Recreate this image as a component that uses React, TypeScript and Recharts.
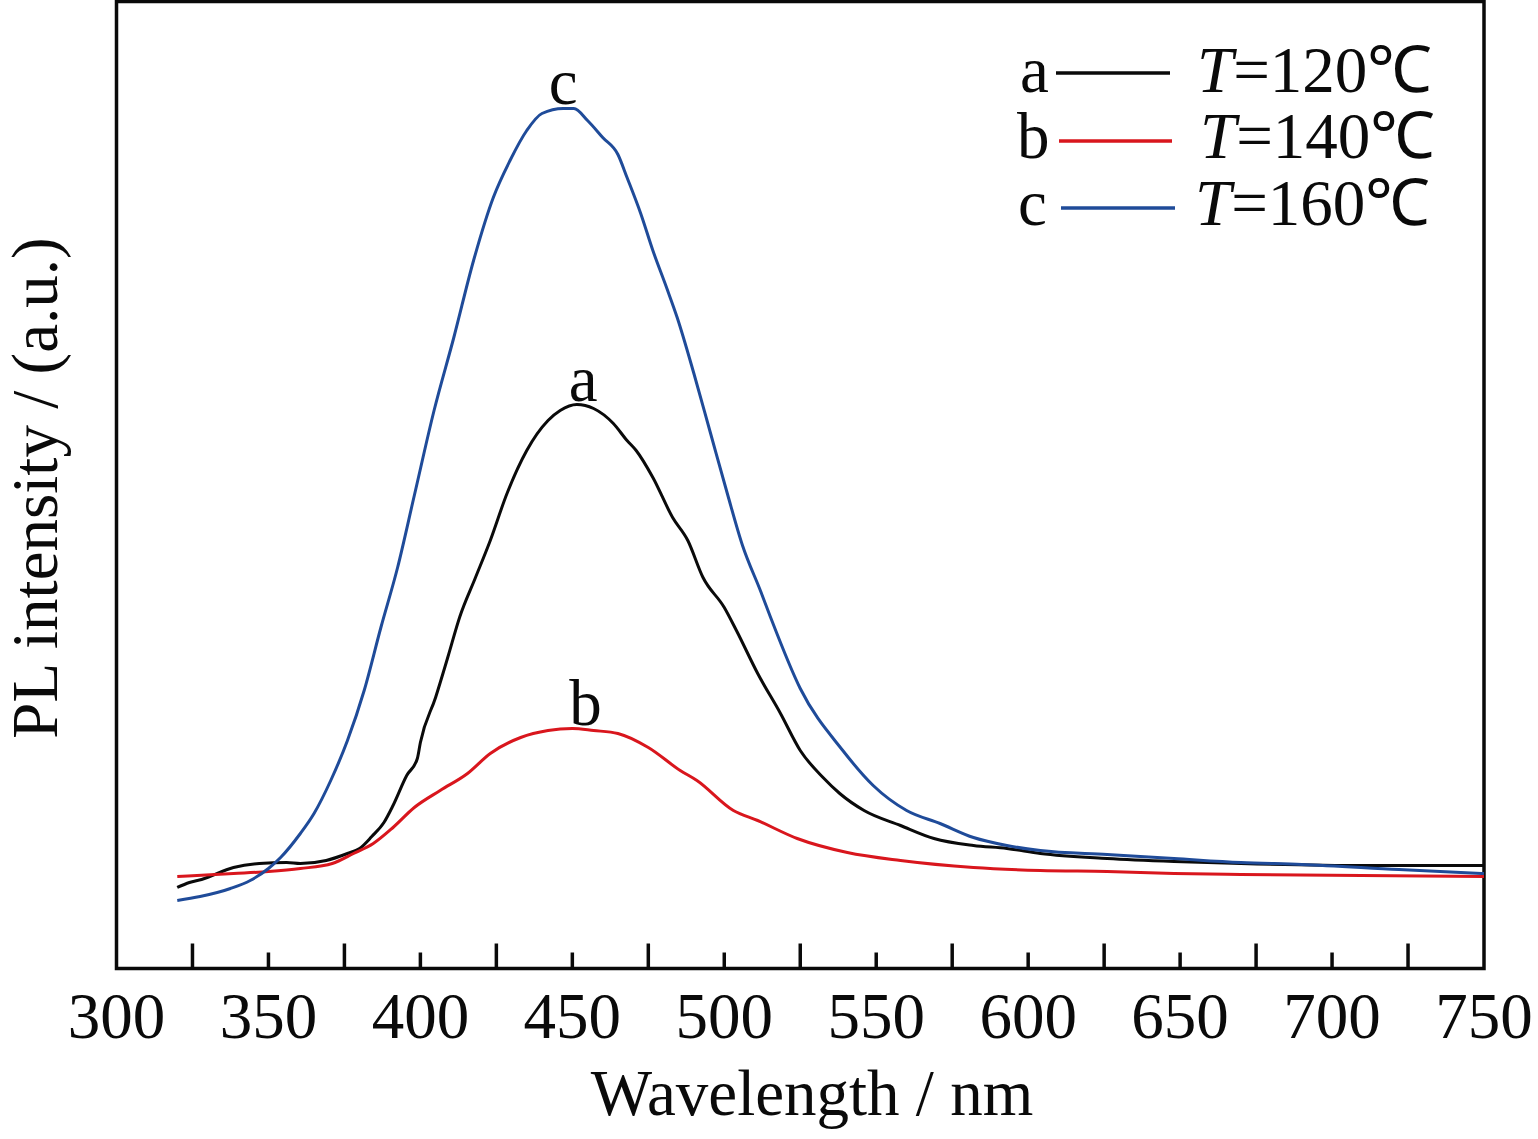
import {
  LineChart,
  Line,
  XAxis,
  YAxis,
  ReferenceArea,
  ReferenceDot,
  Legend,
} from "recharts";

// wavelength (nm), PL intensity (a.u.)
const curveA: [number, number][] = [
  [320, 81], [324, 86], [328, 89], [338.5, 101], [347, 105], [356, 106],
  [360.5, 105], [369, 108], [376, 115], [380, 120], [384, 132], [388, 146],
  [391, 163], [395.5, 193], [399, 210], [400, 226], [405, 271],
  [409, 311], [413, 352], [418, 390], [423, 428], [428.5, 475],
  [435, 518], [442, 548], [446, 558], [451.5, 564], [457, 560], [463.5, 545],
  [468, 528], [471, 518], [476.5, 491], [483, 451], [488, 428], [493, 391],
  [500, 361], [504, 338], [511, 295], [518.5, 255], [525, 218], [532.5, 191],
  [538, 175], [546, 158], [558, 143], [569, 130], [582, 123], [593, 120],
  [604, 115], [626, 110], [648, 107], [670, 105], [711, 103], [750, 103],
];

const curveB: [number, number][] = [
  [320, 92], [338.5, 95], [350, 97], [360.5, 100], [371, 105], [378, 115],
  [384.5, 125], [391, 141], [398, 161], [406.5, 178], [415.5, 195], [423, 215],
  [433, 231], [442, 238], [450, 240], [457, 238], [465, 235], [475, 221],
  [485.5, 198], [491, 188], [503, 158], [511, 148], [524, 130], [540.5, 116],
  [558, 108], [582, 101], [604, 98], [626, 97], [648, 95], [670, 94], [750, 92],
];

const curveC: [number, number][] = [
  [320, 68], [327.5, 72], [337.5, 80], [344, 88], [350, 100], [354, 111],
  [360.5, 135], [365, 155], [370.5, 188], [376, 228], [381.5, 278], [387, 341],
  [392.5, 401], [398, 473], [404.5, 558], [411, 631], [417.5, 708], [424, 771],
  [429.5, 808], [435, 838], [440, 855], [447, 860], [450.5, 860], [455, 848],
  [460, 831], [465, 814], [468, 791], [472.5, 755], [476.5, 718], [481, 681],
  [484.5, 651], [490, 595], [495.5, 535], [501, 475], [506, 423], [512, 377],
  [515, 353], [525, 280], [539, 218], [549, 183], [560, 158], [571, 145],
  [582, 131], [593, 123], [604, 118], [626, 114], [648, 110], [670, 106],
  [690, 104], [722, 99], [750, 95],
];

const seriesLetters = ["a", "b", "c"];
const seriesTemps = ["120", "140", "160"];
const seriesColors = ["#0a0a0a", "#d9161d", "#1f4b99"];

// peak tags: wavelength, intensity under the tag
const peakTagX = [453.6, 454.3, 447];
const peakTagY = [563, 239, 860];

const xTicks = [
  300, 325, 350, 375, 400, 425, 450, 475, 500, 525, 550, 575, 600, 625, 650,
  675, 700, 725, 750,
];

const FONT = '"Liberation Serif", "Times New Roman", serif';

const toPoints = (pairs: [number, number][]) =>
  pairs.map(([x, y]) => ({ x, y }));

const curves = [curveA, curveB, curveC].map(toPoints);

const XTick = (props: any) => {
  const { x, y, payload } = props;
  const v = payload.value;
  const labelled = v % 50 === 0;
  const edge = v === 300 || v === 750;
  const len = labelled ? 16 : 25;
  return (
    <g>
      {!edge && (
        <line x1={x} x2={x} y1={y} y2={y - len} stroke="#0a0a0a" strokeWidth={3.5} />
      )}
      {labelled && (
        <text
          x={x}
          y={y + 69.5}
          textAnchor="middle"
          fontFamily={FONT}
          fontSize={65}
          fill="#0a0a0a"
        >
          {v}
        </text>
      )}
    </g>
  );
};

// row layout of the legend box (relative to its wrapper)
const legendRows = [
  { lx: 20, base: 72, x1: 56, x2: 170, ly: 53, tx: 197 },
  { lx: 17, base: 138, x1: 59, x2: 172, ly: 121, tx: 200 },
  { lx: 18, base: 205, x1: 61, x2: 175, ly: 188, tx: 195 },
];

const LegendBox = () => (
  <svg width={440} height={230} style={{ overflow: "visible", display: "block" }}>
    {seriesLetters.map((letter, i) => {
      const r = legendRows[i];
      return (
        <g key={letter} fontFamily={FONT} fontSize={65} fill="#0a0a0a">
          <text x={r.lx} y={r.base}>
            {letter}
          </text>
          <line x1={r.x1} x2={r.x2} y1={r.ly} y2={r.ly} stroke={seriesColors[i]} strokeWidth={3.5} />
          <text x={r.tx} y={r.base}>
            <tspan fontStyle="italic">T</tspan>={seriesTemps[i]}℃
          </text>
        </g>
      );
    })}
  </svg>
);

const App = () => {
  return (
    <div style={{ position: "absolute", left: 0, top: 0, background: "#fff" }}>
      <LineChart
        width={1538}
        height={1139}
        margin={{ top: 1.5, right: 54, left: 0, bottom: 0 }}
      >
        <XAxis
          type="number"
          dataKey="x"
          domain={[300, 750]}
          ticks={xTicks}
          interval={0}
          axisLine={false}
          tickLine={false}
          tickSize={0}
          tickMargin={0}
          height={170.5}
          tick={<XTick />}
          label={{
            content: () => (
              <text
                x={812}
                y={1115}
                textAnchor="middle"
                fontFamily={FONT}
                fontSize={65}
                fill="#0a0a0a"
              >
                Wavelength / nm
              </text>
            ),
          }}
        />
        <YAxis
          type="number"
          domain={[0, 967]}
          width={116.5}
          tick={false}
          tickLine={false}
          axisLine={false}
          label={{
            content: () => (
              <text
                x={57}
                y={488}
                transform="rotate(-90, 57, 488)"
                textAnchor="middle"
                fontFamily={FONT}
                fontSize={65}
                fill="#0a0a0a"
              >
                PL intensity / (a.u.)
              </text>
            ),
          }}
        />
        <Legend
          layout="vertical"
          align="center"
          verticalAlign="middle"
          wrapperStyle={{ left: 1000, top: 20, width: 440, height: 230 }}
          content={() => <LegendBox />}
        />
        {curves.map((pts, i) => (
          <Line
            key={seriesLetters[i]}
            data={pts}
            dataKey="y"
            name={`T=${seriesTemps[i]}℃`}
            type="monotone"
            stroke={seriesColors[i]}
            strokeWidth={3}
            dot={false}
            activeDot={false}
            isAnimationActive={false}
          />
        ))}
        {seriesLetters.map((letter, i) => (
          <ReferenceDot
            key={`tag-${letter}`}
            x={peakTagX[i]}
            y={peakTagY[i]}
            r={0}
            stroke="none"
            fill="none"
            label={{
              value: letter,
              position: "top",
              offset: 5,
              fontFamily: FONT,
              fontSize: 65,
              fill: "#0a0a0a",
            }}
          />
        ))}
        <ReferenceArea
          x1={300}
          x2={750}
          y1={0}
          y2={967}
          fill="none"
          fillOpacity={0}
          stroke="#0a0a0a"
          strokeWidth={3.5}
        />
      </LineChart>
    </div>
  );
};

export default App;
